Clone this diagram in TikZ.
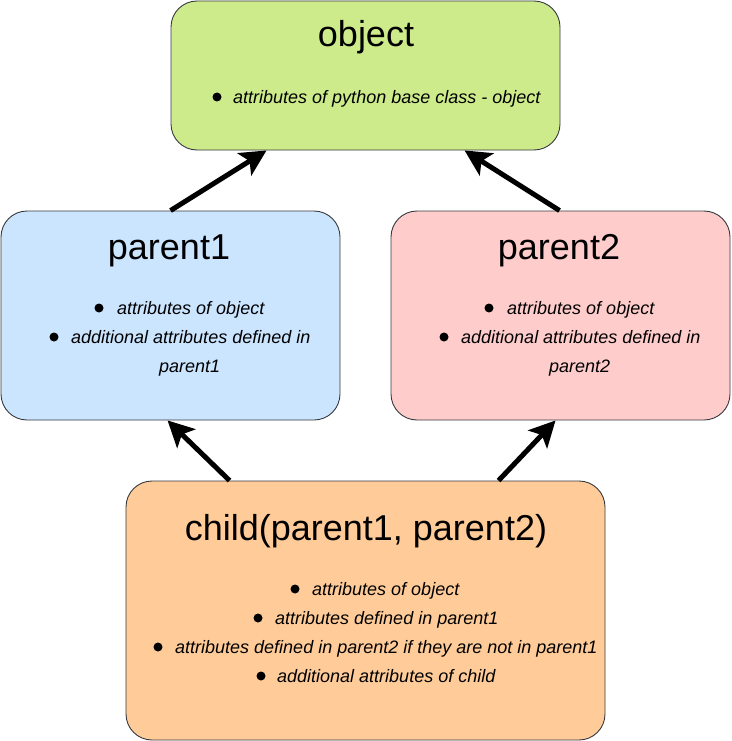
\documentclass[tikz,border=0pt]{standalone}
\usepackage{fontspec}
\setmainfont{Liberation Sans}
\usetikzlibrary{arrows.meta}
\definecolor{bordc}{HTML}{36393D}
\definecolor{greenf}{HTML}{CDEB8B}
\definecolor{bluef}{HTML}{CCE5FF}
\definecolor{redf}{HTML}{FFCCCC}
\definecolor{orangef}{HTML}{FFCC99}
\tikzset{
  box/.style={draw=bordc, line width=0.9pt, rounded corners=26pt, inner sep=0pt},
  title/.style={anchor=base, inner sep=0pt, font=\fontsize{36}{42}\selectfont},
  item/.style={anchor=base west, inner sep=0pt, font=\fontsize{18}{22}\selectfont\itshape},
  dotb/.style={fill=black, draw=none},
  arr/.style={line width=5pt, -{Stealth[length=26pt,width=26pt,inset=6pt]}}
}
\begin{document}
\begin{tikzpicture}[x=1pt,y=-1pt]
\useasboundingbox (0,0) rectangle (731,741);
% boxes
\node[box, fill=greenf, minimum width=389pt, minimum height=149pt] (obj) at (365.5,75.5) {};
\node[box, fill=bluef, minimum width=339pt, minimum height=209pt] (p1) at (170.5,315.5) {};
\node[box, fill=redf, minimum width=339pt, minimum height=209pt] (p2) at (560.5,315.5) {};
\node[box, fill=orangef, minimum width=479pt, minimum height=259pt] (ch) at (365.5,610.5) {};
% titles
\node[title] (tobj) at (366,47) {object};
\node[title] (tp1) at (169,259) {parent1};
\node[title] (tp2) at (559,259) {parent2};
\node[title] (tch) at (366,540) {child(parent1, parent2)};
% object items
\fill[dotb] (217,97) circle (4.5pt);
\node[item] (o1) at (233,103) {attributes of python base class - object};
% parent1 items
\fill[dotb] (99,308) circle (4.5pt);
\node[item] (a1) at (117,314) {attributes of object};
\fill[dotb] (54,337) circle (4.5pt);
\node[item] (a2) at (71,343) {additional attributes defined in};
\node[item] (a3) at (159,372) {parent1};
% parent2 items
\fill[dotb] (489,308) circle (4.5pt);
\node[item] (b1) at (507,314) {attributes of object};
\fill[dotb] (444,337) circle (4.5pt);
\node[item] (b2) at (461,343) {additional attributes defined in};
\node[item] (b3) at (549,372) {parent2};
% child items
\fill[dotb] (295,589) circle (4.5pt);
\node[item] (c1) at (312,595) {attributes of object};
\fill[dotb] (258,618) circle (4.5pt);
\node[item] (c2) at (275,624) {attributes defined in parent1};
\fill[dotb] (158,647) circle (4.5pt);
\node[item] (c3) at (175,653) {attributes defined in parent2 if they are not in parent1};
\fill[dotb] (261,676) circle (4.5pt);
\node[item] (c4) at (277,682) {additional attributes of child};
% arrows
\draw[arr] ([xshift=170pt]p1.north west) -- ([xshift=96pt]obj.south west);
\draw[arr] ([xshift=169pt]p2.north west) -- ([xshift=294pt]obj.south west);
\draw[arr] ([xshift=104pt]ch.north west) -- ([xshift=167pt]p1.south west);
\draw[arr] ([xshift=373pt]ch.north west) -- ([xshift=165pt]p2.south west);
\end{tikzpicture}
\end{document}
